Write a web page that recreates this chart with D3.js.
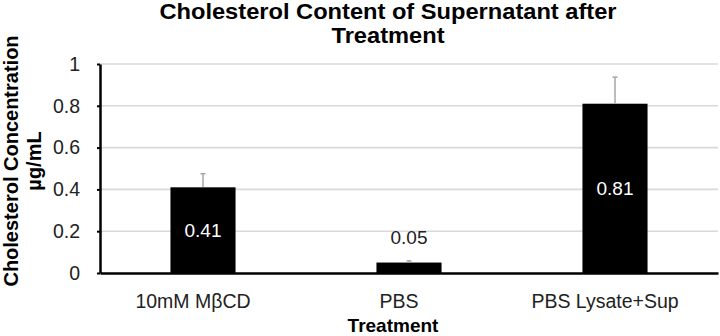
<!DOCTYPE html>
<html>
<head>
<meta charset="utf-8">
<script src="https://cdn.jsdelivr.net/npm/d3@7"></script>
<style>
  html, body { margin: 0; padding: 0; background: #fff; }
  svg { display: block; font-family: "Liberation Sans", Arial, sans-serif; }
</style>
</head>
<body>
<svg id="chart" width="720" height="336"></svg>
<script>
// ---- data ----
const categories = ["10mM M\u03B2CD", "PBS", "PBS Lysate+Sup"];
const values = [0.41, 0.05, 0.81];
const errors = [0.065, 0.008, 0.127];
const valueLabels = ["0.41", "0.05", "0.81"];
const yTicks = [0, 0.2, 0.4, 0.6, 0.8, 1];
const yTickLabels = ["0", "0.2", "0.4", "0.6", "0.8", "1"];
const titleLines = ["Cholesterol Content of Supernatant after", "Treatment"];
const yTitleLines = ["Cholesterol Concentration", "\u00B5g/mL"];
const xTitle = "Treatment";

// ---- layout ----
const FONT = "\"Liberation Sans\", Arial, sans-serif";
const svg = d3.select("#chart");
const plot = { left: 100, right: 718, top: 64, bottom: 273 };

const x = d3.scaleBand()
  .domain(categories)
  .range([plot.left, plot.right])
  .paddingInner(0.684)
  .paddingOuter(0.342);

const y = d3.scaleLinear()
  .domain([0, 1])
  .range([plot.bottom, plot.top]);

// gridlines
svg.append("g")
  .selectAll("line")
  .data(yTicks.filter(d => d > 0))
  .join("line")
  .attr("x1", plot.left)
  .attr("x2", plot.right)
  .attr("y1", d => y(d))
  .attr("y2", d => y(d))
  .attr("stroke", "#d9d9d9")
  .attr("stroke-width", 1.6);

// y axis
const yAxis = d3.axisLeft(y)
  .tickValues(yTicks)
  .tickFormat((d, i) => yTickLabels[i])
  .tickSizeInner(3)
  .tickSizeOuter(0)
  .tickPadding(17);

const gy = svg.append("g")
  .attr("transform", `translate(${plot.left},0)`)
  .call(yAxis);
gy.select(".domain").attr("stroke", "#000").attr("stroke-width", 2.5);
gy.selectAll(".tick line").attr("stroke", "#000").attr("stroke-width", 2);
gy.selectAll(".tick text")
  .attr("font-family", FONT)
  .attr("font-size", 19.5)
  .attr("fill", "#222");

// bars
svg.append("g")
  .selectAll("rect")
  .data(values)
  .join("rect")
  .attr("x", (d, i) => x(categories[i]))
  .attr("width", x.bandwidth())
  .attr("y", d => y(d))
  .attr("height", d => y(0) - y(d))
  .attr("fill", "#000");

// error bars (plus only)
const eb = svg.append("g")
  .attr("stroke", "#a6a6a6")
  .attr("stroke-width", 1.5);
values.forEach((v, i) => {
  const cx = x(categories[i]) + x.bandwidth() / 2;
  eb.append("line")
    .attr("x1", cx).attr("x2", cx)
    .attr("y1", y(v)).attr("y2", y(v + errors[i]));
  eb.append("line")
    .attr("x1", cx - 2.5).attr("x2", cx + 2.5)
    .attr("y1", y(v + errors[i])).attr("y2", y(v + errors[i]));
});

// x axis line + category labels
const xAxis = d3.axisBottom(x).tickSize(0).tickPadding(21);
const gx = svg.append("g")
  .attr("transform", `translate(0,${plot.bottom})`)
  .call(xAxis);
gx.select(".domain").attr("stroke", "#000").attr("stroke-width", 2.5);
gx.selectAll(".tick text")
  .attr("font-family", FONT)
  .attr("font-size", 19.5)
  .attr("dx", -10)
  .attr("fill", "#222");

// value labels
svg.append("g")
  .selectAll("text")
  .data(values)
  .join("text")
  .attr("x", (d, i) => x(categories[i]) + x.bandwidth() / 2)
  .attr("y", (d, i) => {
    const h = y(0) - y(d);
    if (h > 30) return (y(0) + y(d)) / 2;
    return y(d + errors[i]) - 24;
  })
  .attr("dy", "0.35em")
  .attr("text-anchor", "middle")
  .attr("font-size", 19)
  .attr("fill", d => (y(0) - y(d) > 30 ? "#fff" : "#222"))
  .text((d, i) => valueLabels[i]);

// chart title (slightly wide glyphs as in the reference)
const title = svg.append("g")
  .attr("transform", "translate(388,0) scale(1.1,1)");
title.selectAll("text")
  .data(titleLines)
  .join("text")
  .attr("x", 0)
  .attr("y", (d, i) => 19.5 + i * 24)
  .attr("text-anchor", "middle")
  .attr("font-size", 21.5)
  .attr("font-weight", "bold")
  .attr("fill", "#000")
  .text(d => d);

// y axis title
svg.append("g")
  .attr("transform", "translate(0,161) rotate(-90)")
  .selectAll("text")
  .data(yTitleLines)
  .join("text")
  .attr("x", 0)
  .attr("y", (d, i) => 18 + i * 23)
  .attr("text-anchor", "middle")
  .attr("font-size", 20)
  .attr("font-weight", "bold")
  .attr("fill", "#000")
  .text(d => d);

// x axis title
svg.append("text")
  .attr("x", 393)
  .attr("y", 332)
  .attr("text-anchor", "middle")
  .attr("font-size", 19)
  .attr("font-weight", "bold")
  .attr("fill", "#000")
  .text(xTitle);
</script>
</body>
</html>
